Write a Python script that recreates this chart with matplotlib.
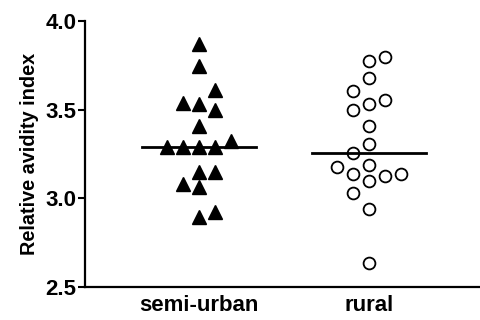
import numpy as np
import matplotlib
matplotlib.use('Agg')
import matplotlib.pyplot as plt

CATEGORIES = ['semi-urban', 'rural']

# semi-urban (filled triangles): value and swarm column (-2..2)
SEMI_VALUES = [3.87, 3.745, 3.61, 3.54, 3.53, 3.50, 3.41,
               3.29, 3.29, 3.29, 3.29, 3.325,
               3.15, 3.15, 3.08, 3.065, 2.895, 2.925]
SEMI_COLS = [0, 0, 1, -1, 0, 1, 0,
             -2, -1, 0, 1, 2,
             0, 1, -1, 0, 0, 1]

# rural (open circles)
RURAL_VALUES = [3.776, 3.80, 3.677, 3.607, 3.50, 3.53, 3.554, 3.408,
                3.306, 3.257, 3.175, 3.188, 3.137, 3.10, 3.126, 3.137,
                3.028, 2.94, 2.637]
RURAL_COLS = [0, 1, 0, -1, -1, 0, 1, 0,
              0, -1, -2, 0, -1, 0, 1, 2,
              -1, 0, 0]

COL_STEP = 0.094
MED_HALF = 0.335

plt.rcParams['font.family'] = ['Liberation Sans', 'DejaVu Sans']
plt.rcParams['font.weight'] = 'bold'

fig = plt.figure(figsize=(4.8, 3.2), dpi=100)
ax = fig.add_axes([0.177, 0.103, 0.823, 0.831])

x0 = 0 + np.array(SEMI_COLS) * COL_STEP
x1 = 1 + np.array(RURAL_COLS) * COL_STEP
ax.plot(x0, SEMI_VALUES, linestyle='none', marker='^', markersize=9.5,
        color='black', clip_on=False)
ax.plot(x1, RURAL_VALUES, linestyle='none', marker='o', markersize=8.5,
        markerfacecolor='white', markeredgecolor='black', markeredgewidth=1.3,
        clip_on=False)

for i, vals in enumerate([SEMI_VALUES, RURAL_VALUES]):
    m = np.median(vals)
    ax.plot([i - MED_HALF, i + MED_HALF], [m, m], color='black', linewidth=2, zorder=3)

ax.set_xlim(-0.67, 1.65)
ax.set_ylim(2.5, 4.0)
ax.set_yticks([2.5, 3.0, 3.5, 4.0])
ax.set_yticklabels(['2.5', '3.0', '3.5', '4.0'])
ax.set_xticks([0, 1])
ax.set_xticklabels(CATEGORIES)
ax.tick_params(axis='x', length=0, pad=6, labelsize=16)
ax.tick_params(axis='y', length=5, width=1.5, pad=1, labelsize=16)
ax.set_ylabel('Relative avidity index', fontsize=14.3, fontweight='bold', labelpad=5)

for s in ['top', 'right']:
    ax.spines[s].set_visible(False)
for s in ['left', 'bottom']:
    ax.spines[s].set_linewidth(1.6)

fig.savefig('out.png', dpi=100)
